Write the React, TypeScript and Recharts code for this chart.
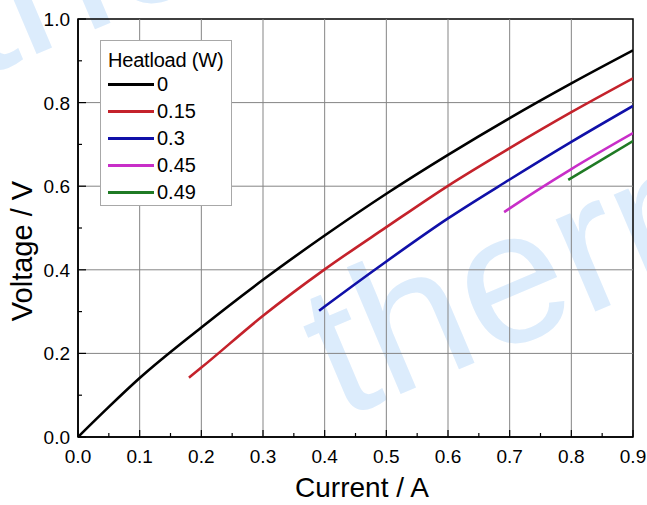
import { LineChart, Line, XAxis, YAxis, ReferenceLine, ReferenceArea, Label } from 'recharts'

const FONT = '"Liberation Sans", Arial, Helvetica, sans-serif'

// axis ticks (minor + major) and grid positions
const X_TICKS = [0, 0.05, 0.1, 0.15, 0.2, 0.25, 0.3, 0.35, 0.4, 0.45, 0.5, 0.55, 0.6, 0.65, 0.7, 0.75, 0.8, 0.85, 0.9]
const Y_TICKS = [0, 0.1, 0.2, 0.3, 0.4, 0.5, 0.6, 0.7, 0.8, 0.9, 1.0]
const X_GRID = [0.1, 0.2, 0.3, 0.4, 0.5, 0.6, 0.7, 0.8]
const Y_GRID = [0.2, 0.4, 0.6, 0.8]

// heatload series
const HEATLOADS = ['0', '0.15', '0.3', '0.45', '0.49']
const COLORS = ['#000000', '#c4222b', '#1010a8', '#c82ec8', '#1f7a24']

const CURRENT_0 = [0, 0.05, 0.1, 0.2, 0.3, 0.4, 0.5, 0.6, 0.7, 0.8, 0.9]
const VOLTAGE_0 = [0, 0.072, 0.141, 0.262, 0.376, 0.482, 0.582, 0.675, 0.763, 0.846, 0.925]

const CURRENT_015 = [0.18, 0.2, 0.3, 0.4, 0.5, 0.6, 0.7, 0.8, 0.9]
const VOLTAGE_015 = [0.142, 0.166, 0.29, 0.401, 0.502, 0.601, 0.691, 0.777, 0.858]

const CURRENT_03 = [0.391, 0.4, 0.5, 0.6, 0.7, 0.8, 0.9]
const VOLTAGE_03 = [0.302, 0.312, 0.42, 0.523, 0.616, 0.706, 0.792]

const CURRENT_045 = [0.691, 0.7, 0.8, 0.9]
const VOLTAGE_045 = [0.538, 0.547, 0.641, 0.727]

const CURRENT_049 = [0.795, 0.9]
const VOLTAGE_049 = [0.615, 0.708]

const CURRENTS = [CURRENT_0, CURRENT_015, CURRENT_03, CURRENT_045, CURRENT_049]
const VOLTAGES = [VOLTAGE_0, VOLTAGE_015, VOLTAGE_03, VOLTAGE_045, VOLTAGE_049]

const series = HEATLOADS.map((name, s) => ({
  name,
  color: COLORS[s],
  data: CURRENTS[s].map((c, i) => ({ current: c, voltage: VOLTAGES[s][i] })),
}))

function XTick({ x, y, payload }: any) {
  const v = payload.value as number
  const major = Math.round(v * 100) % 10 === 0
  return (
    <g>
      <line x1={x} x2={x} y1={y} y2={y - (major ? 7 : 4)} stroke="#000" strokeWidth={1.2} />
      {major && (
        <text x={x} y={y + 26} textAnchor="middle" fontSize={19} fontFamily={FONT} fill="#000">
          {v.toFixed(1)}
        </text>
      )}
    </g>
  )
}

function YTick({ x, y, payload }: any) {
  const v = payload.value as number
  const major = Math.round(v * 10) % 2 === 0
  return (
    <g>
      <line x1={x} x2={x + (major ? 8 : 4)} y1={y} y2={y} stroke="#000" strokeWidth={1.2} />
      {major && (
        <text x={x - 8} y={y + 7} textAnchor="end" fontSize={19} fontFamily={FONT} fill="#000">
          {v.toFixed(1)}
        </text>
      )}
    </g>
  )
}

function Watermark() {
  return (
    <svg width={647} height={505} style={{ position: 'absolute', left: 0, top: 0 }}>
      <g fill="#dcecfc" fontFamily={FONT} fontSize={190}>
        <text transform="translate(340 420) rotate(-23)">therm</text>
        <text transform="translate(-24 80) rotate(-23)">therm</text>
      </g>
    </svg>
  )
}

function HeatLegend() {
  return (
    <div
      style={{
        position: 'absolute',
        left: 100,
        top: 40,
        width: 130,
        height: 164,
        border: '1px solid #a8a8a8',
        background: '#fff',
        fontFamily: FONT,
        color: '#000',
        boxSizing: 'content-box',
      }}
    >
      <div style={{ fontSize: 20, lineHeight: '22px', marginTop: 8, marginLeft: 7, whiteSpace: 'nowrap', letterSpacing: -0.2 }}>
        Heatload (W)
      </div>
      {series.map((s) => (
        <div key={s.name} style={{ display: 'flex', alignItems: 'center', height: 27, marginLeft: 7 }}>
          <div style={{ width: 46, height: 2.5, background: s.color }} />
          <span style={{ fontSize: 20, marginLeft: 3, lineHeight: '27px' }}>{s.name}</span>
        </div>
      ))}
    </div>
  )
}

export default function App() {
  return (
    <div style={{ position: 'absolute', left: 0, top: 0, width: 647, height: 505, background: '#fff' }}>
      <Watermark />
      <div style={{ position: 'absolute', left: 0, top: 0 }}>
        <LineChart width={647} height={505} margin={{ top: 19, right: 14, bottom: 0, left: 0 }}>
          <XAxis
            type="number"
            dataKey="current"
            domain={[0, 0.9]}
            ticks={X_TICKS}
            interval={0}
            allowDataOverflow
            height={68}
            tickSize={0}
            tickMargin={0}
            tickLine={false}
            tick={<XTick />}
            axisLine={{ stroke: '#000', strokeWidth: 1.5 }}
          >
            <Label
              content={() => (
                <text x={362} y={497} textAnchor="middle" fontSize={28} fontFamily={FONT} fill="#000">
                  Current / A
                </text>
              )}
            />
          </XAxis>
          <YAxis
            type="number"
            dataKey="voltage"
            domain={[0, 1]}
            ticks={Y_TICKS}
            interval={0}
            allowDataOverflow
            width={78}
            tickSize={0}
            tickMargin={0}
            tickLine={false}
            tick={<YTick />}
            axisLine={{ stroke: '#000', strokeWidth: 1.5 }}
          >
            <Label
              content={() => (
                <text
                  x={32}
                  y={251}
                  transform="rotate(-90 32 251)"
                  textAnchor="middle"
                  fontSize={29}
                  fontFamily={FONT}
                  fill="#000"
                >
                  Voltage / V
                </text>
              )}
            />
          </YAxis>
          {X_GRID.map((v) => (
            <ReferenceLine key={'x' + v} x={v} stroke="#858585" strokeWidth={1} />
          ))}
          {Y_GRID.map((v) => (
            <ReferenceLine key={'y' + v} y={v} stroke="#858585" strokeWidth={1} />
          ))}
          <ReferenceArea x1={0} x2={0.9} y1={0} y2={1} fill="none" stroke="#000" strokeWidth={1.5} fillOpacity={0} />
          {series.map((s) => (
            <Line
              key={s.name}
              data={s.data}
              dataKey="voltage"
              name={s.name}
              type="monotone"
              stroke={s.color}
              strokeWidth={2.6}
              dot={false}
              activeDot={false}
              isAnimationActive={false}
            />
          ))}
        </LineChart>
      </div>
      <HeatLegend />
    </div>
  )
}
